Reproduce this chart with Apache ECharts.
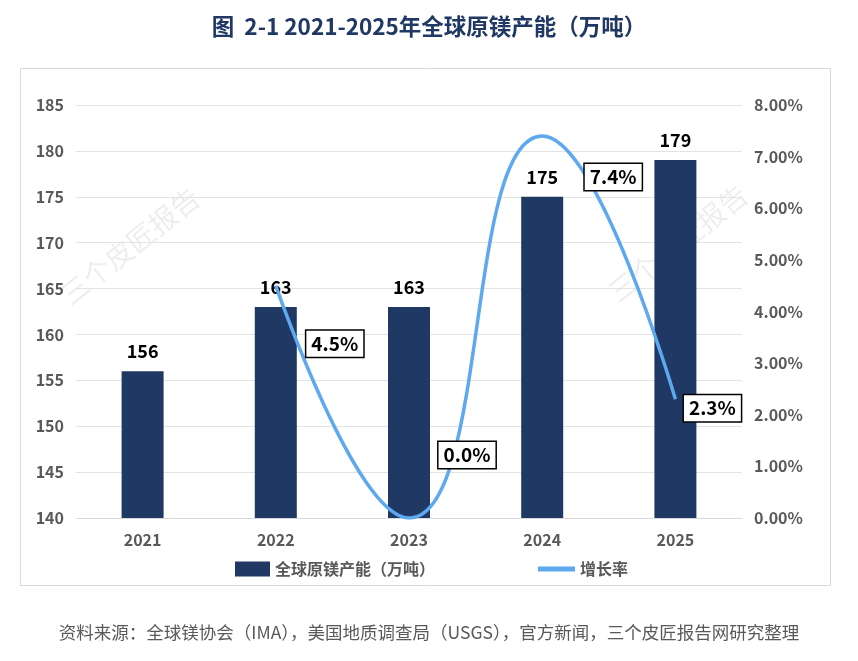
<!DOCTYPE html>
<html>
<head>
<meta charset="utf-8">
<script src="https://cdn.jsdelivr.net/npm/echarts@6/dist/echarts.min.js"></script>
<style>
html,body{margin:0;padding:0;background:#fff;}
#chart{width:858px;height:661px;}
</style>
</head>
<body>
<div id="chart"></div>
<script>
const categories = ['2021', '2022', '2023', '2024', '2025'];
const capacity = [156, 163, 163, 175, 179];
const growth = [null, 4.5, 0.0, 7.4, 2.3];
const leftTicks = {min: 140, max: 185, interval: 5};
const rightTicks = {min: 0, max: 8, interval: 1};
const growthLabelOffsets = [null, [59, 58], [58, -63], [71, 41], [37, 9]];

const FONT = '"Noto Sans CJK SC", "Noto Sans", sans-serif';
const LINE_COLOR = '#5ea8f0';
const chart = echarts.init(document.getElementById('chart'));

const growthData = growth.map((v, i) => {
  if (v === null) return null;
  return {
    value: v,
    label: {offset: growthLabelOffsets[i]}
  };
});

chart.setOption({
  backgroundColor: '#fff',
  textStyle: {fontFamily: FONT},
  title: {
    text: '图  2-1 2021-2025年全球原镁产能（万吨）',
    left: 'center',
    top: 10,
    textStyle: {fontFamily: FONT, fontSize: 22.5, fontWeight: 'bold', color: '#203864'}
  },
  graphic: [
    {type: 'rect', z: -10, shape: {x: 20.5, y: 68.5, width: 810, height: 517},
     style: {fill: 'none', stroke: '#d9d9d9', lineWidth: 1}},
    {type: 'text', z: -5, x: 130, y: 246, rotation: 0.67,
     style: {text: '三个皮匠报告', fontFamily: FONT, fontSize: 28, fill: 'rgba(0,0,0,0.07)', align: 'center', verticalAlign: 'middle'}},
    {type: 'text', z: -5, x: 678, y: 243, rotation: 0.67,
     style: {text: '三个皮匠报告', fontFamily: FONT, fontSize: 28, fill: 'rgba(0,0,0,0.07)', align: 'center', verticalAlign: 'middle'}},
    {type: 'text', x: 429, y: 632,
     style: {text: '资料来源：全球镁协会（IMA），美国地质调查局（USGS），官方新闻，三个皮匠报告网研究整理',
       fontFamily: FONT, fontSize: 17.5, fill: '#595959', align: 'center', verticalAlign: 'middle'}}
  ],
  legend: [
    {
      left: 230,
      top: 556,
      itemWidth: 35,
      itemHeight: 15,
      textStyle: {fontFamily: FONT, fontSize: 16, fontWeight: 'bold', color: '#595959'},
      data: [{name: '全球原镁产能（万吨）', icon: 'rect'}]
    },
    {
      left: 533,
      top: 556,
      itemWidth: 37,
      itemHeight: 5,
      textStyle: {fontFamily: FONT, fontSize: 16, fontWeight: 'bold', color: '#595959'},
      data: [{name: '增长率', icon: 'rect', itemStyle: {color: LINE_COLOR}}]
    }
  ],
  grid: {left: 76, right: 116, top: 105, bottom: 143},
  xAxis: {
    type: 'category',
    data: categories,
    axisLine: {show: true, lineStyle: {color: '#d9d9d9', width: 1}},
    axisTick: {show: false},
    axisLabel: {fontFamily: FONT, fontSize: 16, fontWeight: 'bold', color: '#595959', margin: 14}
  },
  yAxis: [
    {
      type: 'value',
      min: leftTicks.min, max: leftTicks.max, interval: leftTicks.interval,
      axisLine: {show: false}, axisTick: {show: false},
      splitLine: {lineStyle: {color: '#e3e3e3', width: 1}},
      axisLabel: {fontFamily: FONT, fontSize: 16, fontWeight: 'bold', color: '#595959', margin: 12}
    },
    {
      type: 'value',
      min: rightTicks.min, max: rightTicks.max, interval: rightTicks.interval,
      axisLine: {show: false}, axisTick: {show: false},
      splitLine: {show: false},
      axisLabel: {fontFamily: FONT, fontSize: 16, fontWeight: 'bold', color: '#595959', margin: 12,
        formatter: v => v.toFixed(2) + '%'}
    }
  ],
  series: [
    {
      name: '全球原镁产能（万吨）',
      type: 'bar',
      data: capacity,
      barWidth: 42,
      itemStyle: {color: '#1f3864'},
      label: {show: true, position: 'top', distance: 11, fontFamily: FONT, fontSize: 18, fontWeight: 'bold', color: '#000'}
    },
    {
      name: '增长率',
      type: 'line',
      yAxisIndex: 1,
      data: growthData,
      smooth: 0.5,
      symbol: 'circle',
      symbolSize: 0.01,
      itemStyle: {color: LINE_COLOR},
      lineStyle: {color: LINE_COLOR, width: 3.5},
      label: {
        show: true, position: 'inside',
        formatter: p => p.value.toFixed(1) + '%',
        fontFamily: FONT, fontSize: 19, fontWeight: 'bold', color: '#000',
        backgroundColor: '#fff', borderColor: '#000', borderWidth: 1.5,
        padding: [4, 5, 3, 5]
      },
      z: 5
    }
  ]
});
</script>
</body>
</html>
